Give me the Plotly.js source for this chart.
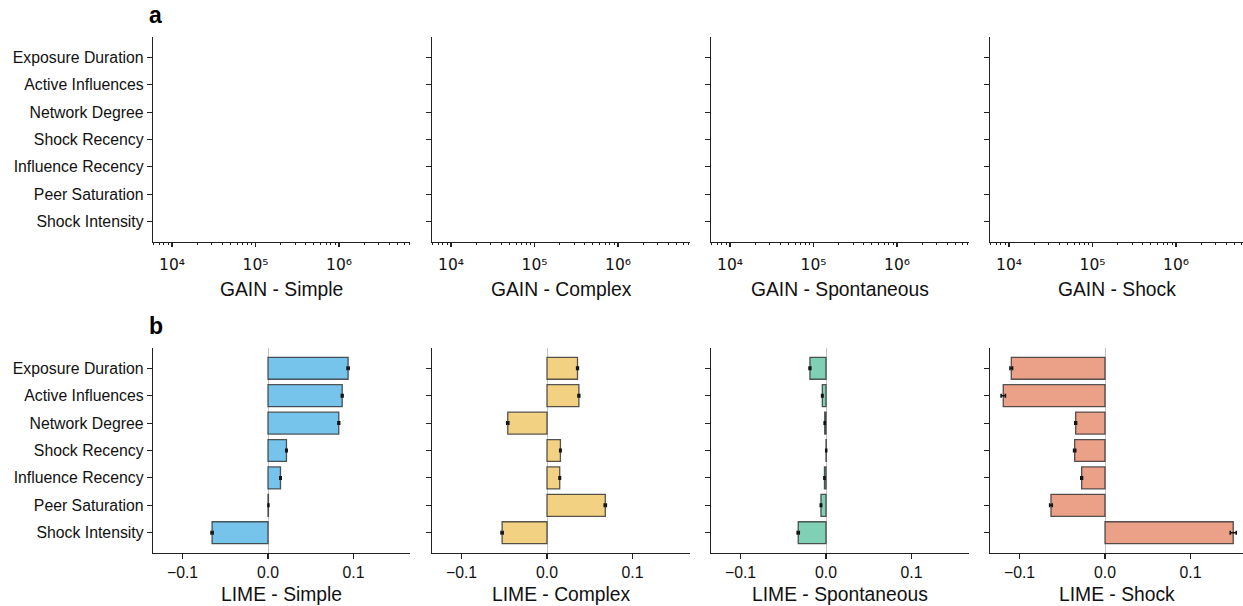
<!DOCTYPE html>
<html>
<head>
<meta charset="utf-8">
<script src="https://cdn.plot.ly/plotly-3.0.1.min.js"></script>
<style>html,body{margin:0;padding:0;background:#fff}#chart{width:1243px;height:606px}</style>
</head>
<body>
<div id="chart"></div>
<script>
// ---- data ----
const features = ["Exposure Duration","Active Influences","Network Degree","Shock Recency","Influence Recency","Peer Saturation","Shock Intensity"];
const models = ["Simple","Complex","Spontaneous","Shock"];
const colors = ["#76C3EC","#F3D182","#80D0B5","#EBA088"];
const limeSimple      = [0.0937, 0.0868, 0.0828, 0.0216, 0.0146, 0.0005, -0.0654];
const limeComplex     = [0.0357, 0.0373, -0.0459, 0.0157, 0.0149, 0.0682, -0.0525];
const limeSpontaneous = [-0.0188, -0.0043, -0.0015, 0.0003, -0.0018, -0.0059, -0.0325];
const limeShock       = [-0.1096, -0.1190, -0.0343, -0.0355, -0.0273, -0.0632, 0.1500];
const errSimple      = [0.0012, 0.0010, 0.0010, 0.0008, 0.0008, 0.0005, 0.0012];
const errComplex     = [0.0010, 0.0010, 0.0012, 0.0008, 0.0008, 0.0012, 0.0012];
const errSpontaneous = [0.0010, 0.0008, 0.0006, 0.0005, 0.0006, 0.0008, 0.0012];
const errShock       = [0.0015, 0.0025, 0.0010, 0.0012, 0.0010, 0.0015, 0.0035];
const gainTicks = [1e4, 1e5, 1e6];
const gainTickText = ["10\u2074", "10\u2075", "10\u2076"];
const limeTicks = [-0.1, 0, 0.1];
const limeTickText = ["\u22120.1", "0.0", "0.1"];

const limeVals = [limeSimple, limeComplex, limeSpontaneous, limeShock];
const limeErrs = [errSimple, errComplex, errSpontaneous, errShock];

// ---- geometry ----
const W = 1243, H = 606;
const colPx = [[153,410],[432,690],[711,969],[990,1243]];
const topRowPx = [37,242], botRowPx = [348,553];
const yDom = px => [1 - px[1]/H, 1 - px[0]/H];
const barPxPerUnit = 855, barLeft = -0.1345;
const logPxPerDecade = 83.5, logLeft = 3.772;
const font = 'Liberation Sans, Arial, sans-serif';

const idx = features.map((f,i)=>i);
const axisCommon = {
  showline:true, linecolor:'#222', linewidth:1.2, mirror:false,
  ticks:'outside', ticklen:5, tickwidth:1.1, tickcolor:'#222',
  showgrid:false, zeroline:false,
  tickfont:{family:font, size:15.8, color:'#111'}
};

const layout = {
  width:W, height:H, margin:{l:0,r:0,t:0,b:0},
  paper_bgcolor:'#fff', plot_bgcolor:'rgba(0,0,0,0)',
  showlegend:false, bargap:0.2, annotations:[]
};
const data = [];

for (let c=0;c<4;c++){
  const wpx = colPx[c][1]-colPx[c][0];
  const xd = [colPx[c][0]/W, colPx[c][1]/W];
  const nTop = 1 + c, nBot = 5 + c;
  // top row (GAIN, log axis, empty)
  layout['xaxis'+nTop] = Object.assign({}, axisCommon, {
    domain:xd, anchor:'y'+nTop, type:'log',
    range:[logLeft, logLeft + wpx/logPxPerDecade],
    tickvals:gainTicks, ticktext:gainTickText,
    tickfont:{family:'DejaVu Sans, Liberation Sans, sans-serif', size:15.5, color:'#111'},
    ticklen:4, ticklabelstandoff:4,
    minor:{ticks:'outside', ticklen:2, tickcolor:'#222', tickwidth:1, dtick:'D1'}
  });
  layout['yaxis'+nTop] = Object.assign({}, axisCommon, {
    domain:yDom(topRowPx), anchor:'x'+nTop,
    range:[features.length-1+0.74, -0.74],
    tickvals:idx, ticktext:features, showticklabels:c===0
  });
  // empty trace so the GAIN axes are drawn (no GAIN values shown in the reference)
  data.push({type:'scatter', mode:'markers', x:gainTicks, y:gainTicks.map(()=>null),
    xaxis:'x'+nTop, yaxis:'y'+nTop, hoverinfo:'skip'});
  // bottom row (LIME bars)
  layout['xaxis'+nBot] = Object.assign({}, axisCommon, {
    domain:xd, anchor:'y'+nBot,
    range:[barLeft, barLeft + wpx/barPxPerUnit],
    tickvals:limeTicks, ticktext:limeTickText,
    zeroline:true, zerolinecolor:'#c4c4c4', zerolinewidth:1
  });
  layout['yaxis'+nBot] = Object.assign({}, axisCommon, {
    domain:yDom(botRowPx), anchor:'x'+nBot,
    range:[features.length-1+0.74, -0.74],
    tickvals:idx, ticktext:features, showticklabels:c===0
  });
  data.push({
    type:'bar', orientation:'h', x:limeVals[c], y:idx,
    xaxis:'x'+nBot, yaxis:'y'+nBot, width:0.8,
    marker:{color:colors[c], line:{color:'rgba(45,45,45,0.8)', width:1.3}},
    error_x:{type:'data', array:limeErrs[c], visible:true, color:'#111', thickness:1.6, width:2},
    hoverinfo:'x+y'
  });
  const cx = (colPx[c][0]+colPx[c][1])/2/W;
  layout.annotations.push({text:'GAIN - '+models[c], x:cx, y:1-289/H, xref:'paper', yref:'paper',
    showarrow:false, xanchor:'center', yanchor:'middle', font:{family:font, size:19.3, color:'#111'}});
  layout.annotations.push({text:'LIME - '+models[c], x:cx, y:1-594/H, xref:'paper', yref:'paper',
    showarrow:false, xanchor:'center', yanchor:'middle', font:{family:font, size:19.3, color:'#111'}});
}
layout.annotations.push({text:'<b>a</b>', x:147/W, y:1-15/H, xref:'paper', yref:'paper',
  showarrow:false, xanchor:'left', yanchor:'middle', font:{family:font, size:23, color:'#000'}});
layout.annotations.push({text:'<b>b</b>', x:147/W, y:1-326/H, xref:'paper', yref:'paper',
  showarrow:false, xanchor:'left', yanchor:'middle', font:{family:font, size:23, color:'#000'}});

Plotly.newPlot('chart', data, layout, {staticPlot:true, displayModeBar:false});
</script>
</body>
</html>
